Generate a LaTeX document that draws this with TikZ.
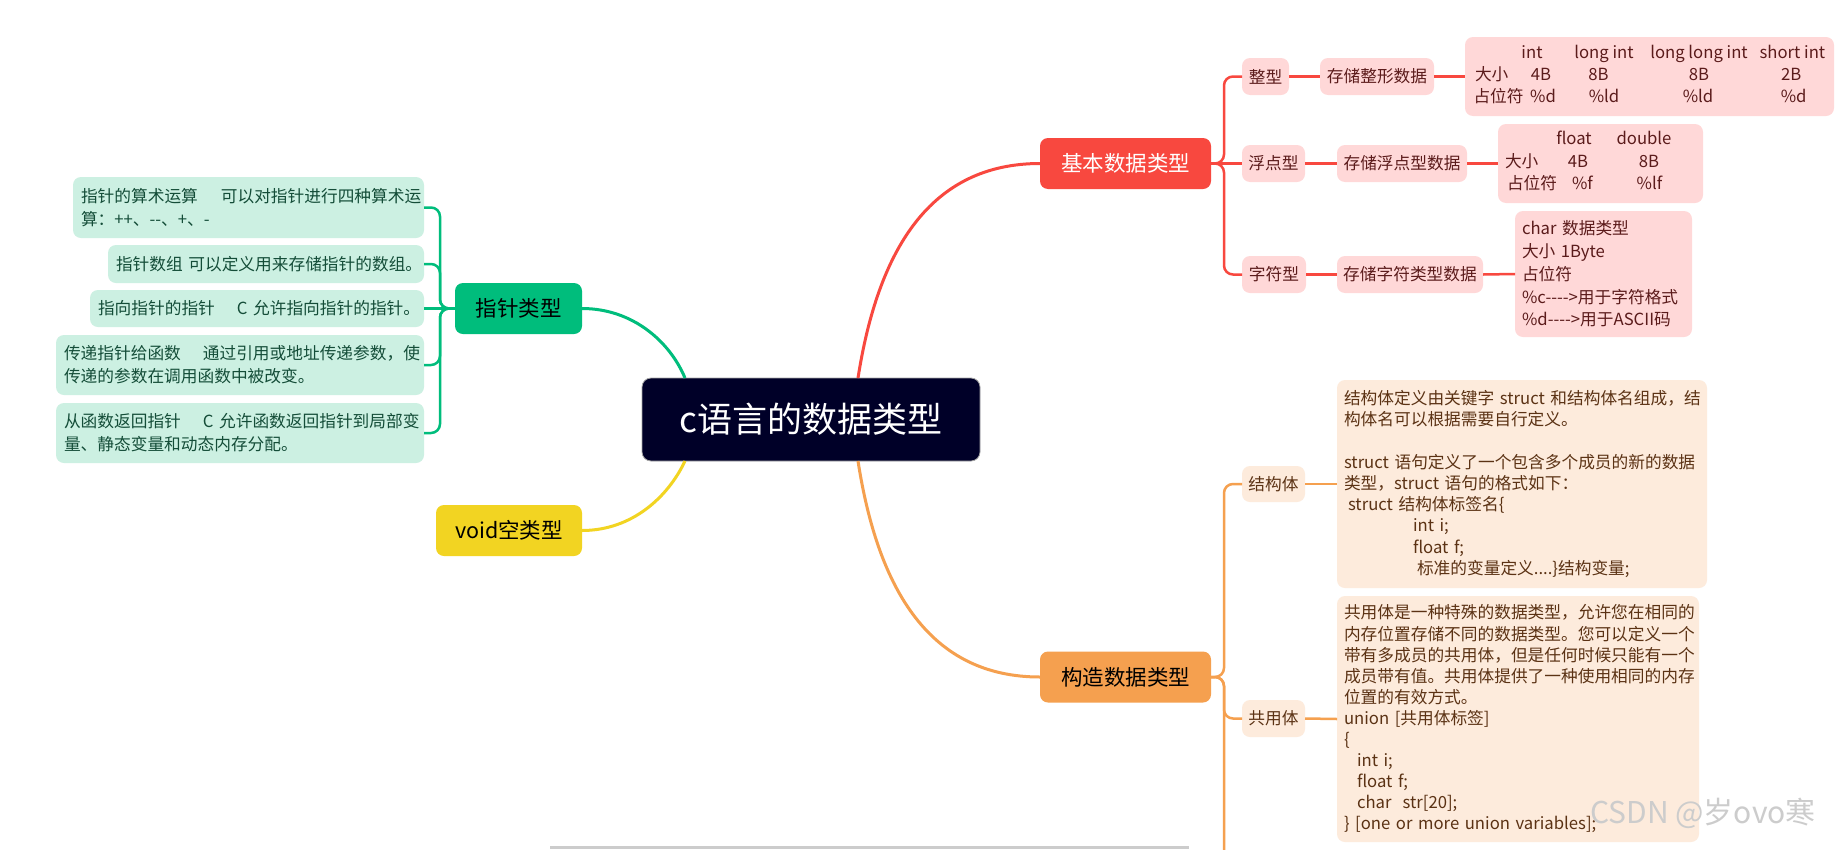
\documentclass[tikz,border=0pt]{standalone}
\usepackage{fontspec}
\setmainfont{Noto Sans CJK SC}
\newcommand\myfs[2]{\fontsize{#1}{#2}\selectfont}
\definecolor{rootc}{HTML}{000028}
\definecolor{redc}{HTML}{F8483F}
\definecolor{greenc}{HTML}{00BD7C}
\definecolor{yellowc}{HTML}{F2D422}
\definecolor{orangec}{HTML}{F5A04F}
\definecolor{pinkc}{HTML}{FFD8D8}
\definecolor{peachc}{HTML}{FDEBDC}
\definecolor{mintc}{HTML}{CCF0E2}
\definecolor{redtext}{HTML}{5B1B1B}
\definecolor{ortext}{HTML}{5B3214}
\definecolor{gtext}{HTML}{144D38}
\begin{document}
\begin{tikzpicture}[x=1pt,y=-1pt,
  box/.style={rounded corners=8pt, inner sep=0pt, outer sep=0pt},
  rootbox/.style={box, fill=rootc, draw=gray!70, line width=0.8pt, rounded corners=9pt, text=white, font=\myfs{35}{40}},
  topbox/.style={box, font=\myfs{21.5}{26}, minimum height=51pt},
  redsub/.style={box, fill=pinkc, text=redtext, font=\myfs{16.7}{20}, minimum height=37pt},
  orsub/.style={box, fill=peachc, text=ortext, font=\myfs{16.7}{20}, minimum height=37pt},
  gleaf/.style={box, fill=mintc, text=gtext, font=\myfs{16.7}{23}, align=left, inner xsep=8pt},
  cell/.style={inner sep=0pt, outer sep=0pt, text=redtext, font=\myfs{16.7}{20}, text height=12pt, text depth=3pt},
  redl/.style={draw=redc, line width=2.5pt, rounded corners=9pt},
  orl/.style={draw=orangec, line width=2.5pt, rounded corners=9pt},
  grl/.style={draw=greenc, line width=2.5pt, rounded corners=9pt},
  bigcurve/.style={line width=3pt}
]
\useasboundingbox (0,0) rectangle (1836,849);
\fill[white] (0,0) rectangle (1836,849);

% ---------- root ----------
\node[rootbox, minimum width=338pt, minimum height=83pt] (c) at (811,419.5) {c语言的数据类型};

% ---------- level 1 ----------
\node[topbox, fill=redc, text=white, minimum width=171pt] (b1) at (1125.5,163.5) {基本数据类型};
\node[topbox, fill=orangec, text=black, minimum width=171pt] (b2) at (1125.5,677) {构造数据类型};
\node[topbox, fill=greenc, text=black, minimum width=127pt] (ptr) at (518.5,308.5) {指针类型};
\node[topbox, fill=yellowc, text=black, minimum width=146pt] (vd) at (509,530.5) {void空类型};

% ---------- main curves ----------
\draw[bigcurve, draw=redc] ([xshift=47pt]c.north) .. controls (878,250) and (930,163.5) .. (b1.west);
\draw[bigcurve, draw=orangec] ([xshift=47pt]c.south) .. controls (878,590) and (930,677) .. (b2.west);
\draw[bigcurve, draw=greenc] (ptr.east) .. controls (633,308.5) and (670,342) .. ([xshift=-126pt]c.north);
\draw[bigcurve, draw=yellowc] (vd.east) .. controls (632,530.5) and (668,497) .. ([xshift=-126pt]c.south);

% ---------- basic types ----------
\node[redsub, minimum width=47pt] (r1) at (1265.5,76.5) {整型};
\node[redsub, minimum width=63pt] (r2) at (1273.5,163.5) {浮点型};
\node[redsub, minimum width=64pt] (r3) at (1274,274.5) {字符型};
\node[redsub, minimum width=114pt] (s1) at (1377,76.5) {存储整形数据};
\node[redsub, minimum width=130pt] (s2) at (1402,163.5) {存储浮点型数据};
\node[redsub, minimum width=146pt] (s3) at (1410,274.5) {存储字符类型数据};

\node[box, fill=pinkc, minimum width=369pt, minimum height=79pt] (ibox) at (1649.5,76.5) {};
\node[box, fill=pinkc, minimum width=205pt, minimum height=79pt] (fbox) at (1600.5,163.5) {};
\node[box, fill=pinkc, text=redtext, font=\myfs{16.7}{22.75}, align=left, text width=163pt, inner xsep=7pt, minimum height=126pt] (cbox) at (1603.5,274) {char 数据类型\\大小 1Byte\\占位符\\\%c{-}{-}{-}{-}>用于字符格式\\\%d{-}{-}{-}{-}>用于ASCII码};

% int table
\node[cell] (ih1) at (1532,53.8) {int};
\node[cell] (ih2) at (1604,53.8) {long int};
\node[cell] (ih3) at (1699,53.8) {long long int};
\node[cell] (ih4) at (1792.4,53.8) {short int};
\node[cell, anchor=west] (ir2) at (1475,75.8) {大小};
\node[cell] (iv1) at (1541,75.8) {4B};
\node[cell] (iv2) at (1598.4,75.8) {8B};
\node[cell] (iv3) at (1699,75.8) {8B};
\node[cell] (iv4) at (1791.3,75.8) {2B};
\node[cell, anchor=west] (ir3) at (1473.5,98) {占位符};
\node[cell] (ip1) at (1543,98) {\%d};
\node[cell] (ip2) at (1604,98) {\%ld};
\node[cell] (ip3) at (1698,98) {\%ld};
\node[cell] (ip4) at (1793.6,98) {\%d};

% float table
\node[cell] (fh1) at (1574,139.8) {float};
\node[cell] (fh2) at (1644,139.8) {double};
\node[cell, anchor=west] (fr2) at (1505,162.5) {大小};
\node[cell] (fv1) at (1578,162.5) {4B};
\node[cell] (fv2) at (1649,162.5) {8B};
\node[cell, anchor=west] (fr3) at (1507,184.8) {占位符};
\node[cell] (fp1) at (1582.5,184.8) {\%f};
\node[cell] (fp2) at (1649.4,184.8) {\%lf};

\draw[redl] (b1.east) -- (r2.west);
\draw[redl] (b1.east) -- ++(13,0) |- (r1.west);
\draw[redl] (b1.east) -- ++(13,0) |- (r3.west);
\draw[redl] (r1.east) -- (s1.west);
\draw[redl] (r2.east) -- (s2.west);
\draw[redl] (r3.east) -- (s3.west);
\draw[redl] (s1.east) -- (ibox.west);
\draw[redl] (s2.east) -- (fbox.west);
\draw[redl] (s3.east) -- (cbox.west);

% ---------- composite types ----------
\node[orsub, minimum width=63pt, minimum height=36pt] (o1) at (1273.5,484) {结构体};
\node[orsub, minimum width=63pt] (o2) at (1273.5,718.5) {共用体};
\node[box, fill=peachc, text=ortext, font=\myfs{16.7}{21.25}, align=left, text width=356pt, inner xsep=7pt, minimum height=208pt] (sbox) at (1522,484) {结构体定义由关键字~struct~和结构体名组成，结\\
构体名可以根据需要自行定义。\\
\mbox{}\\
struct~语句定义了一个包含多个成员的新的数据\\
类型，struct~语句的格式如下：\\
\hspace*{4pt}struct~结构体标签名\{\\
\hspace*{69pt}int~i;\\
\hspace*{69pt}float~f;\\
\hspace*{73pt}标准的变量定义....\}结构变量;};
\node[box, fill=peachc, text=ortext, font=\myfs{16.7}{21.1}, align=left, text width=348pt, inner xsep=7pt, minimum height=246pt] (ubox) at (1518,719) {共用体是一种特殊的数据类型，允许您在相同的\\
内存位置存储不同的数据类型。您可以定义一个\\
带有多成员的共用体，但是任何时候只能有一个\\
成员带有值。共用体提供了一种使用相同的内存\\
位置的有效方式。\\
union~[共用体标签]\\
\{\\
\hspace*{13pt}int~i;\\
\hspace*{13pt}float~f;\\
\hspace*{13pt}char~~str[20];\\
\}~[one~or~more~union~variables];};

\coordinate (obot) at (1224,860);
\draw[orl] (b2.east) -- ++(13,0) |- (o1.west);
\draw[orl] (b2.east) -- ++(13,0) |- (o2.west);
\draw[orl] (b2.east) -- ++(13,0) -- (obot);
\draw[orl] (o1.east) -- (sbox.west);
\draw[orl] (o2.east) -- (ubox.west);

% ---------- pointer types ----------
\node[gleaf, text width=335pt, minimum height=61pt] (g1) at (248.5,207.5) {指针的算术运算\nobreak\hspace{23pt}可以对指针进行四种算术运\\算：++、{-}{-}、+、-};
\node[gleaf, text width=300pt, minimum height=38pt] (g2) at (266,264) {指针数组~可以定义用来存储指针的数组。};
\node[gleaf, text width=318pt, minimum height=37pt] (g3) at (257,308.5) {指向指针的指针\nobreak\hspace{22pt}C~允许指向指针的指针。};
\node[gleaf, text width=352pt, minimum height=60pt] (g4) at (240,365) {传递指针给函数\nobreak\hspace{22pt}通过引用或地址传递参数，使\\传递的参数在调用函数中被改变。};
\node[gleaf, text width=352pt, minimum height=60pt] (g5) at (240,433) {从函数返回指针\nobreak\hspace{22pt}C~允许函数返回指针到局部变\\量、静态变量和动态内存分配。};

\draw[grl] (ptr.west) -- (g3.east);
\draw[grl] (ptr.west) -- ++(-15,0) |- (g1.east);
\draw[grl] (ptr.west) -- ++(-15,0) |- (g2.east);
\draw[grl] (ptr.west) -- ++(-15,0) |- (g4.east);
\draw[grl] (ptr.west) -- ++(-15,0) |- (g5.east);

% ---------- watermark and scrollbar ----------
\node[text=gray!40, font=\myfs{30}{34}, inner sep=0pt] (wm) at (1703,813) {CSDN @岁ovo寒};
\fill[gray!40] (550,845.5) rectangle (1189,849);
\end{tikzpicture}
\end{document}
